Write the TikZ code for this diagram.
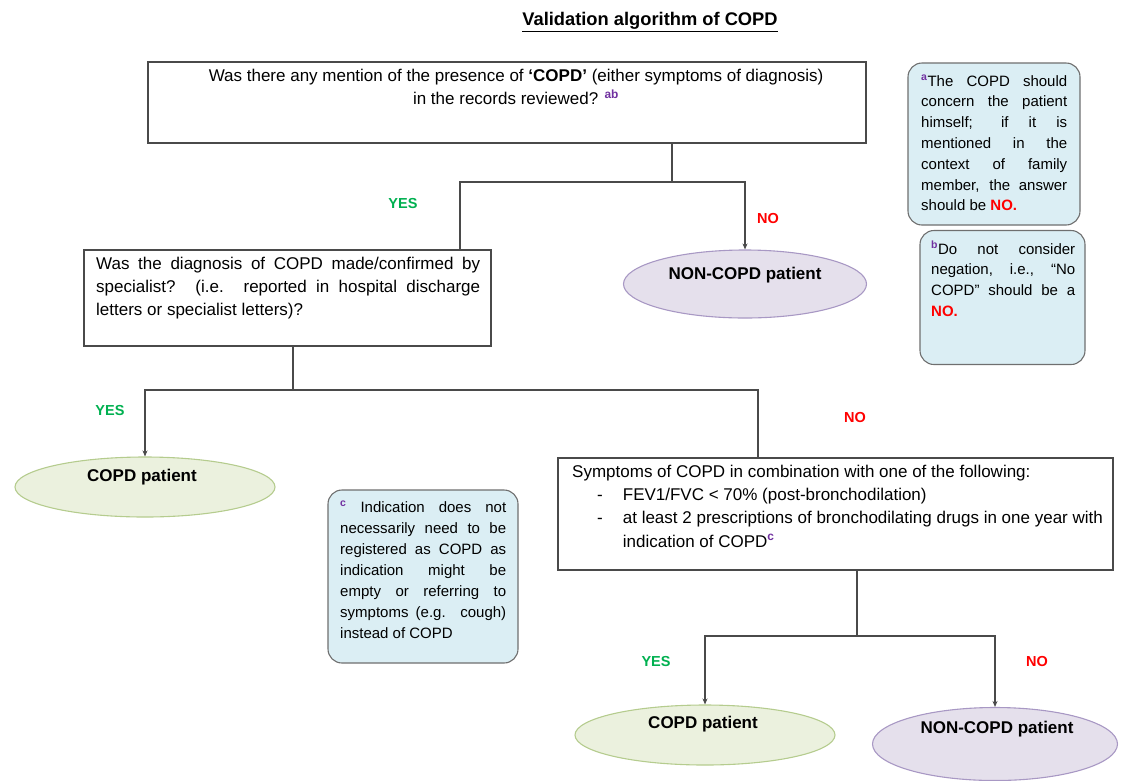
\documentclass[tikz,border=0pt]{standalone}
\usepackage{fontspec}
\setmainfont{Liberation Sans}
\usetikzlibrary{shapes.geometric,arrows.meta,calc}

\definecolor{yesgreen}{HTML}{00B050}
\definecolor{nored}{HTML}{FF0000}
\definecolor{fnpurple}{HTML}{7030A0}
\definecolor{boxline}{HTML}{4A4A4A}
\definecolor{notefill}{HTML}{DBEEF4}
\definecolor{noteline}{HTML}{6F6F6F}
\definecolor{copdfill}{HTML}{EBF1DE}
\definecolor{copdline}{HTML}{B5CC8E}
\definecolor{nonfill}{HTML}{E5E0EC}
\definecolor{nonline}{HTML}{A898C4}

% one justified line of fixed width
\newcommand\jl[2]{\makebox[#1][s]{#2}}
\newcommand\fn[1]{\textsuperscript{\textcolor{fnpurple}{\bfseries #1}}}

\begin{document}
\begin{tikzpicture}[x=1pt,y=-1pt,
  qbox/.style={draw=boxline,line width=1.2pt,rectangle,inner sep=0pt},
  qtext/.style={inner sep=0pt,font=\fontsize{17}{23.2}\selectfont,align=left},
  notebox/.style={draw=noteline,line width=1.1pt,fill=notefill,rounded corners=14pt,inner sep=0pt},
  notetext/.style={inner sep=0pt,font=\fontsize{15}{20.8}\selectfont,align=left},
  copdell/.style={ellipse,draw=copdline,line width=1.1pt,fill=copdfill,inner sep=0pt},
  nonell/.style={ellipse,draw=nonline,line width=1.1pt,fill=nonfill,inner sep=0pt},
  outtext/.style={inner sep=0pt,font=\fontsize{17}{19}\selectfont\bfseries},
  yeslbl/.style={inner sep=0pt,font=\fontsize{14.5}{16}\selectfont\bfseries,text=yesgreen},
  nolbl/.style={inner sep=0pt,font=\fontsize{14.5}{16}\selectfont\bfseries,text=nored},
  conn/.style={draw=boxline,line width=1.2pt},
  arr/.style={conn,-{Stealth[length=6pt,width=5pt]}}
]
\useasboundingbox (0,0) rectangle (1123,780);

% title
\node[inner sep=0pt,font=\fontsize{18.3}{21}\selectfont\bfseries] (title) at (650,22)
  {\underline{Validation algorithm of COPD}};

% question 1
\node[qbox,minimum width=718pt,minimum height=81pt] (box1) at (507,102.5) {};
\node[qtext,align=center,anchor=north] (box1t) at (516,69)
  {Was there any mention of the presence of \textbf{‘COPD’} (either symptoms of diagnosis)\\
   in the records reviewed? \fn{ab}};

% question 2
\node[qbox,minimum width=407pt,minimum height=96pt] (box2) at (287.5,298) {};
\node[qtext,anchor=north west] (box2t) at (96,257)
  {\jl{384pt}{Was the diagnosis of COPD made/confirmed by}\\
   \jl{384pt}{specialist? (i.e. reported in hospital discharge}\\
   letters or specialist letters)?};

% question 3
\node[qbox,minimum width=555pt,minimum height=112pt] (box3) at (835.5,514) {};
\node[qtext,anchor=north west] (box3t) at (572,465)
  {Symptoms of COPD in combination with one of the following:\\
   \hspace*{25pt}-\hspace*{20pt}FEV1/FVC < 70\% (post-bronchodilation)\\
   \hspace*{25pt}-\hspace*{20pt}at least 2 prescriptions of bronchodilating drugs in one year with\\
   \hspace*{50.7pt}indication of COPD\fn{c}};

% outcomes
\node[nonell,minimum width=243pt,minimum height=68pt] (nonA) at (745,284) {};
\node[outtext] (nonAt) at (745,275) {NON-COPD patient};
\node[copdell,minimum width=260pt,minimum height=60pt] (copdA) at (145,487) {};
\node[outtext] (copdAt) at (142,477) {COPD patient};
\node[copdell,minimum width=260pt,minimum height=60pt] (copdB) at (705,735) {};
\node[outtext] (copdBt) at (703,724) {COPD patient};
\node[nonell,minimum width=245pt,minimum height=73pt] (nonB) at (995,744) {};
\node[outtext] (nonBt) at (997,729) {NON-COPD patient};

% footnotes
\node[notebox,minimum width=172pt,minimum height=162pt] (noteA) at (994,144) {};
\node[notetext,anchor=north west] (noteAt) at (921,75)
  {\jl{146pt}{\fn{a}The COPD should}\\
   \jl{146pt}{concern the patient}\\
   \jl{146pt}{himself; if it is}\\
   \jl{146pt}{mentioned in the}\\
   \jl{146pt}{context of family}\\
   \jl{146pt}{member, the answer}\\
   should be \textcolor{nored}{\bfseries NO.}};
\node[notebox,minimum width=165pt,minimum height=134pt] (noteB) at (1002.5,297.5) {};
\node[notetext,anchor=north west] (noteBt) at (931,241)
  {\jl{144pt}{\fn{b}Do not consider}\\
   \jl{144pt}{negation, i.e., “No}\\
   \jl{144pt}{COPD” should be a}\\
   \textcolor{nored}{\bfseries NO.}};
\node[notebox,minimum width=190pt,minimum height=173pt] (noteC) at (423,576.5) {};
\node[notetext,anchor=north west,font=\fontsize{15}{21}\selectfont] (noteCt) at (340,501)
  {\jl{166pt}{\fn{c} Indication does not}\\
   \jl{166pt}{necessarily need to be}\\
   \jl{166pt}{registered as COPD as}\\
   \jl{166pt}{indication might be}\\
   \jl{166pt}{empty or referring to}\\
   \jl{166pt}{symptoms (e.g. cough)}\\
   instead of COPD};

% junction points of the connectors
\coordinate (j1) at (672,182);
\coordinate (b2in) at (460,0);
\coordinate (j2) at (293,390);
\coordinate (b3in) at (758,0);
\coordinate (j3) at (857,636);

% connectors
\draw[conn] (box1.south -| j1) -- (j1);
\draw[conn] (j1) -| (box2.north -| b2in);
\draw[arr]  (j1) -| (nonA.north);
\draw[conn] (box2.south -| j2) -- (j2);
\draw[arr]  (j2) -| (copdA.north);
\draw[conn] (j2) -| (box3.north -| b3in);
\draw[conn] (box3.south -| j3) -- (j3);
\draw[arr]  (j3) -| (copdB.north);
\draw[arr]  (j3) -| (nonB.north);

% branch labels
\node[yeslbl] (yes1) at (403,204) {YES};
\node[nolbl]  (no1)  at (768,219) {NO};
\node[yeslbl] (yes2) at (110,410) {YES};
\node[nolbl]  (no2)  at (855,417) {NO};
\node[yeslbl] (yes3) at (656,661) {YES};
\node[nolbl]  (no3)  at (1037,661) {NO};
\end{tikzpicture}
\end{document}
